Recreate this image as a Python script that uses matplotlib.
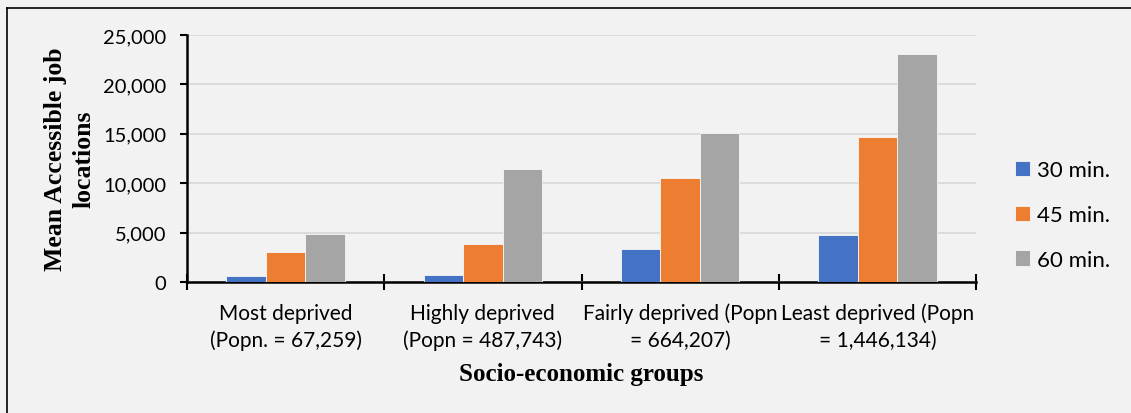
import matplotlib.pyplot as plt
import numpy as np
from matplotlib.lines import Line2D
from matplotlib.ticker import FuncFormatter, FixedLocator

# Socio-economic groups and mean accessible job locations per travel time
groups = ['Most deprived\n(Popn. = 67,259)',
          'Highly deprived\n(Popn = 487,743)',
          'Fairly deprived (Popn\n= 664,207)',
          'Least deprived (Popn\n= 1,446,134)']
series_names = ['30 min.', '45 min.', '60 min.']
jobs_30 = [560, 700, 3300, 4790]
jobs_45 = [3080, 3840, 10550, 14670]
jobs_60 = [4860, 11440, 15080, 23100]
colors = ['#4472c4', '#ed7d31', '#a5a5a5']

bg = '#f2f2f2'
W, H = 1131, 414
fig = plt.figure(figsize=(W / 100, H / 100), dpi=100, facecolor=bg)
ax = fig.add_axes([187 / W, 1 - 283 / H, (976 - 187) / W, (283 - 36) / H], facecolor=bg)

centers = np.arange(len(groups)) + 0.5
width = 0.2
for k, (vals, name, c) in enumerate(zip([jobs_30, jobs_45, jobs_60], series_names, colors)):
    ax.bar(centers + (k - 1) * width, vals, width, color=c, label=name,
           edgecolor='#f7f7f7', linewidth=0.6, zorder=3)

ax.set_xlim(0, len(groups))
ax.set_ylim(0, 25000)
ax.set_yticks(np.arange(0, 25001, 5000))
ax.yaxis.set_major_formatter(FuncFormatter(lambda v, p: f'{int(v):,}'))
ax.grid(axis='y', color='#d9d9d9', linewidth=1.3, zorder=0)

# category boundaries get the tick marks, labels sit at the centres
ax.xaxis.set_major_locator(FixedLocator(np.arange(len(groups) + 1)))
ax.xaxis.set_minor_locator(FixedLocator(centers))
ax.set_xticklabels([])
ax.set_xticklabels(groups, minor=True)
ax.tick_params(axis='x', which='major', direction='inout', length=11, width=1.5)
ax.tick_params(axis='x', which='minor', length=0, pad=15, labelsize=15)
ax.tick_params(axis='y', direction='out', length=5, width=1.5, labelsize=14.5, pad=10)
for lbl in ax.get_xticklabels(minor=True) + ax.get_yticklabels():
    lbl.set_fontfamily('Lato')
    lbl.set_linespacing(1.4)

for s in ['top', 'right']:
    ax.spines[s].set_visible(False)
for s in ['left', 'bottom']:
    ax.spines[s].set_linewidth(1.8)

ax.set_xlabel('Socio-economic groups', fontfamily='Liberation Serif',
              fontweight='bold', fontsize=18)
ax.xaxis.set_label_coords(0.5, -0.322)
ax.set_ylabel('Mean Accessible job\nlocations', fontfamily='Liberation Serif',
              fontweight='bold', fontsize=18.5, linespacing=1.3)
ax.yaxis.set_label_coords(-0.1165, 0.5)

leg = fig.legend(*ax.get_legend_handles_labels(), loc='center left',
                 bbox_to_anchor=(1015 / W, 1 - 216 / H), frameon=False,
                 prop={'family': 'Lato', 'size': 16}, handlelength=0.68,
                 handleheight=0.68, handletextpad=0.3, labelspacing=1.12,
                 borderpad=0, borderaxespad=0)

# outer frame on the top and left edges
fig.add_artist(Line2D([7 / W, 7 / W], [0, 1 - 9 / H],
                      transform=fig.transFigure, color='black', linewidth=1.2))
fig.add_artist(Line2D([7 / W, 1], [1 - 9 / H, 1 - 9 / H],
                      transform=fig.transFigure, color='black', linewidth=1.2))

fig.savefig('out.png', dpi=100, facecolor=bg)
